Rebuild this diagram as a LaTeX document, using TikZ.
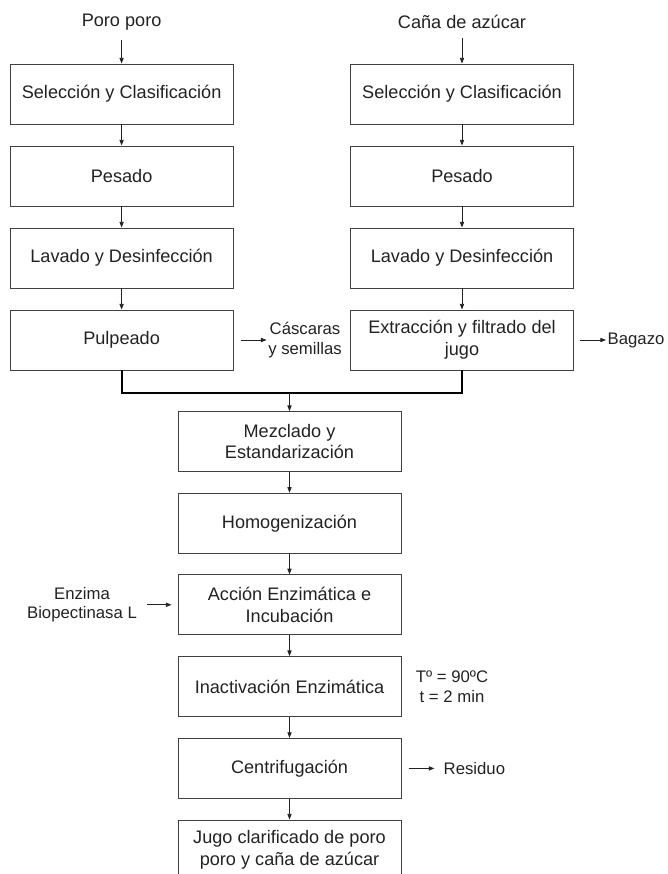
\documentclass[tikz,border=0pt]{standalone}
\usepackage{fontspec}
\setmainfont{Liberation Sans}
\usetikzlibrary{arrows.meta, positioning}
\definecolor{inkgray}{HTML}{222222}
\definecolor{framegray}{HTML}{404040}
\tikzset{
    proc_box/.style={
        rectangle, draw=framegray, line width=0.7pt,
        minimum width=5.575cm, minimum height=1.5cm,
        align=center, text=inkgray, font=\fontsize{12.9pt}{15.5pt}\selectfont
    },
    title_lbl/.style={
        align=center, text=inkgray, inner xsep=1pt, inner ysep=6.5pt,
        font=\fontsize{12.9pt}{15.5pt}\selectfont
    },
    side_lbl/.style={
        align=center, text=inkgray, inner sep=1pt,
        font=\fontsize{11.9pt}{14pt}\selectfont
    },
    flow_arrow/.style={
        -{Triangle[length=4pt, width=3pt]}, draw=inkgray, line width=0.6pt
    },
    join_line/.style={
        draw=black, line width=1.4pt
    }
}

\begin{document}
\begin{tikzpicture}
    \useasboundingbox (0,0) rectangle (16.675,-21.85);

    % raw materials
    \node[title_lbl] (poro) at (3.04,-0.55) {Poro poro};
    \node[title_lbl] (cana) at (11.55,-0.55) {Caña de azúcar};

    % poro poro line
    \node[proc_box] (pp_sel) at (3.04,-2.35) {Selección y Clasificación};
    \node[proc_box] (pp_pes) at (3.04,-4.4) {Pesado};
    \node[proc_box] (pp_lav) at (3.04,-6.45) {Lavado y Desinfección};
    \node[proc_box] (pp_pul) at (3.04,-8.5) {Pulpeado};

    % cane line
    \node[proc_box] (ca_sel) at (11.55,-2.35) {Selección y Clasificación};
    \node[proc_box] (ca_pes) at (11.55,-4.4) {Pesado};
    \node[proc_box] (ca_lav) at (11.55,-6.45) {Lavado y Desinfección};
    \node[proc_box] (ca_ext) at (11.55,-8.5) {Extracción y filtrado del\\jugo};

    % common line
    \coordinate (merge) at (7.2375,-9.825);
    \node[proc_box] (mix) at (7.2375,-11.04) {Mezclado y\\Estandarización};
    \node[proc_box] (homog) at (7.2375,-13.08) {Homogenización};
    \node[proc_box] (accion) at (7.2375,-15.12) {Acción Enzimática e\\Incubación};
    \node[proc_box] (inact) at (7.2375,-17.165) {Inactivación Enzimática};
    \node[proc_box] (centr) at (7.2375,-19.21) {Centrifugación};
    \node[proc_box] (jugo) at (7.2375,-21.25) {Jugo clarificado de poro\\poro y caña de azúcar};

    % side inputs and outputs
    \node[side_lbl] (casc) at (7.625,-8.5) {Cáscaras\\y semillas};
    \node[side_lbl, anchor=west] (bag) at (15.15,-8.5) {Bagazo};
    \node[side_lbl] (enz) at (2.05,-15.12) {Enzima\\Biopectinasa L};
    \node[side_lbl] (temp) at (11.3,-17.165) {Tº = 90ºC\\t = 2 min};
    \node[side_lbl, anchor=west] (resid) at (11.05,-19.21) {Residuo};

    \draw[flow_arrow] (poro) -- (pp_sel);
    \draw[flow_arrow] (pp_sel) -- (pp_pes);
    \draw[flow_arrow] (pp_pes) -- (pp_lav);
    \draw[flow_arrow] (pp_lav) -- (pp_pul);
    \draw[flow_arrow] (cana) -- (ca_sel);
    \draw[flow_arrow] (ca_sel) -- (ca_pes);
    \draw[flow_arrow] (ca_pes) -- (ca_lav);
    \draw[flow_arrow] (ca_lav) -- (ca_ext);

    \draw[join_line] (pp_pul) |- (merge) -| (ca_ext);
    \draw[flow_arrow] (merge) -- (mix);
    \draw[flow_arrow] (mix) -- (homog);
    \draw[flow_arrow] (homog) -- (accion);
    \draw[flow_arrow] (accion) -- (inact);
    \draw[flow_arrow] (inact) -- (centr);
    \draw[flow_arrow] (centr) -- (jugo);

    \draw[flow_arrow, shorten <=0.175cm] (pp_pul) -- (casc);
    \draw[flow_arrow, shorten <=0.15cm] (ca_ext) -- (bag);
    \draw[flow_arrow, shorten <=0.21cm, shorten >=0.15cm] (enz) -- (accion);
    \draw[flow_arrow, shorten <=0.18cm, shorten >=0.19cm] (centr) -- (resid);
\end{tikzpicture}
\end{document}
